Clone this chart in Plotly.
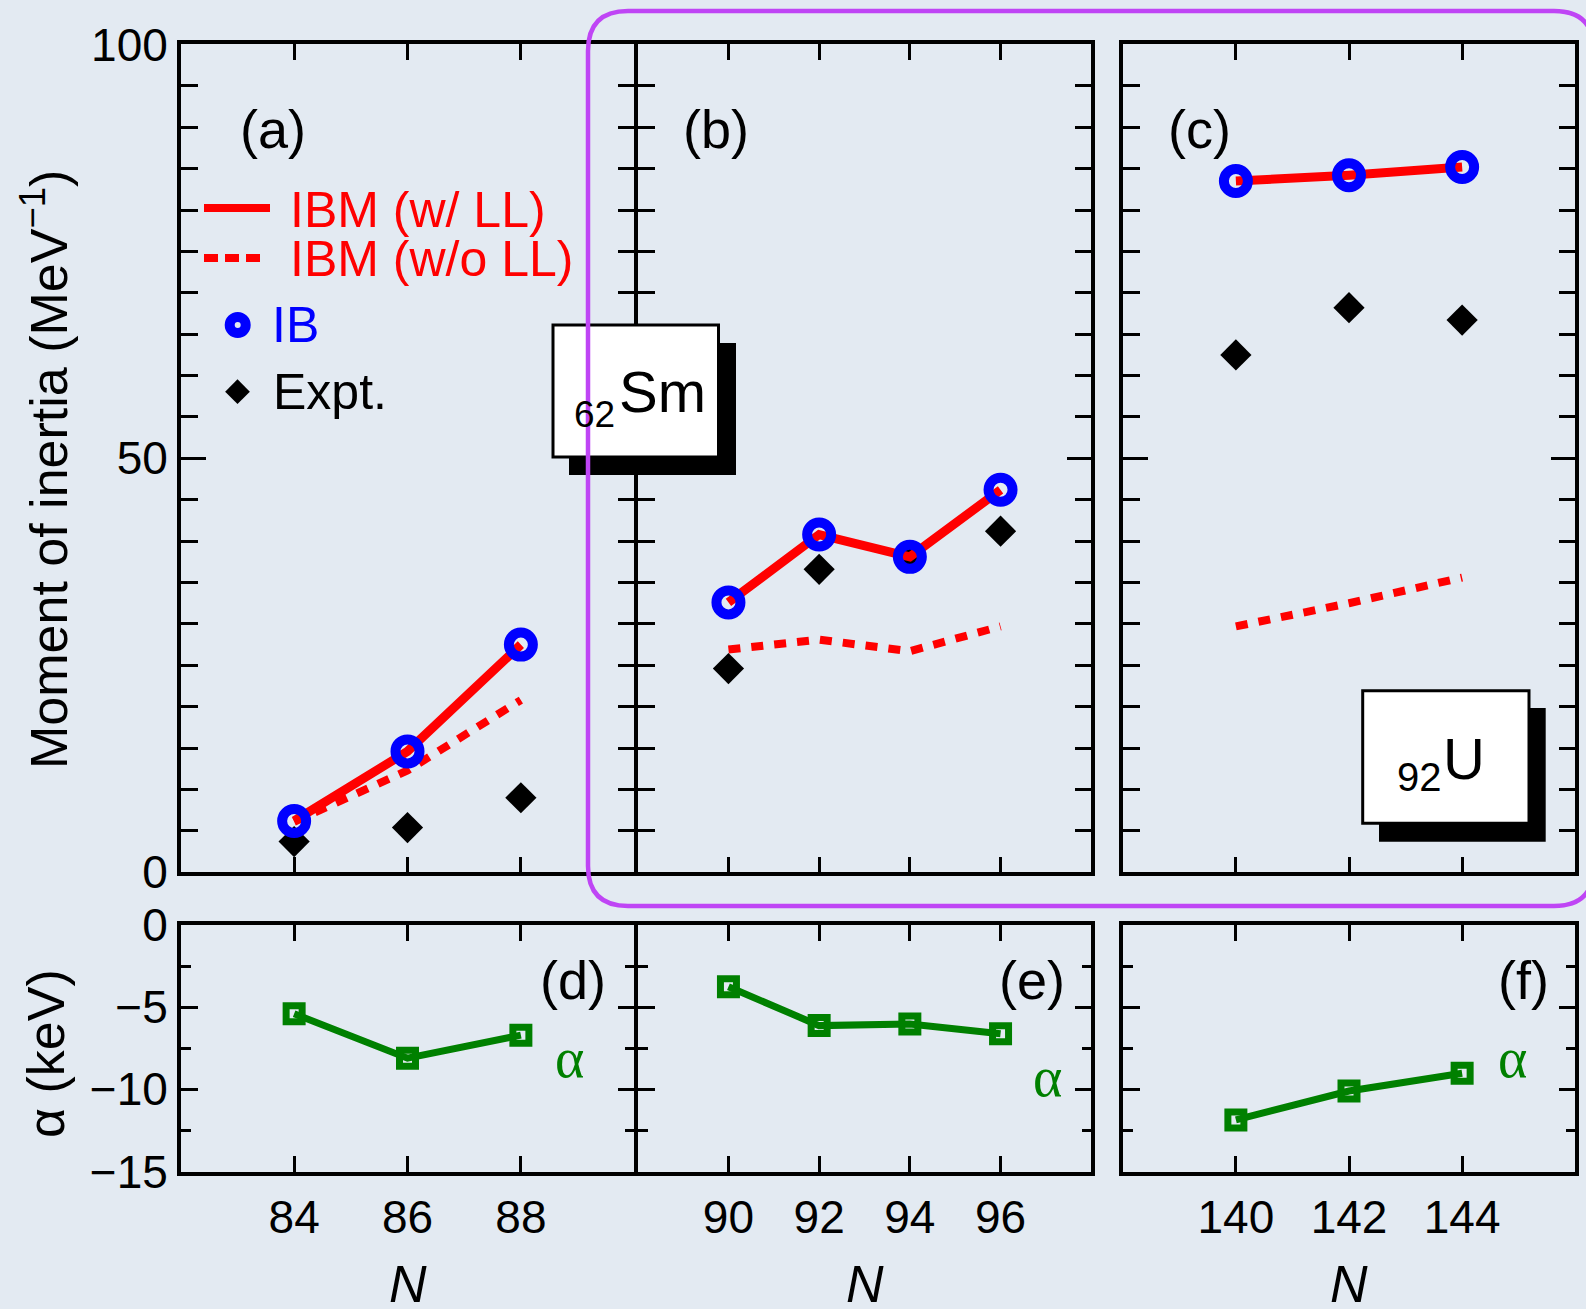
import plotly.graph_objects as go

# ---------------- data ----------------
N_sm_a = [84, 86, 88]
N_sm_b = [90, 92, 94, 96]
N_u = [140, 142, 144]

ibm_ll_a = [6.2, 14.6, 27.5]
ibm_noll_a = [6.1, 12.3, 20.8]
expt_a = [3.7, 5.4, 9.0]

ibm_ll_b = [32.6, 40.8, 38.1, 46.2]
ibm_noll_b = [26.9, 28.1, 26.7, 29.7]
expt_b = [24.6, 36.6, 38.0, 41.2]

ibm_ll_c = [83.5, 84.2, 85.2]
ibm_noll_c = [29.7, 32.5, 35.6]
expt_c = [62.5, 68.2, 66.7]

alpha_a = [-5.4, -8.1, -6.7]
alpha_b = [-3.75, -6.12, -6.02, -6.62]
alpha_c = [-11.86, -10.1, -9.02]

upper_ticks = [0, 50, 100]
lower_ticks = [-15, -10, -5, 0]

# ---------------- layout helpers ----------------
W, H = 1586, 1309
FONT = "Liberation Sans, Arial, Helvetica, sans-serif"
SERIF = "Liberation Serif, Times New Roman, serif"
BG = "#e3eaf2"
RED = "#ff0000"
BLUE = "#0000ff"
GREEN = "#008000"
LW = 3.5
HALF = LW / 2


def dx(a, b):
    return [(a + HALF) / W, (b - HALF) / W]


def dy(top, bottom):
    return [1 - (bottom - HALF) / H, 1 - (top + HALF) / H]


cols = [(179, 636), (636, 1093), (1121, 1577)]
up = (42.7, 874)
lo = (923.3, 1173.3)
xranges = [[82, 90], [88, 98], [138, 146]]
xtv = [N_sm_a, N_sm_b, N_u]

fig = go.Figure()

common = dict(showline=True, linecolor="black", linewidth=LW, mirror="allticks",
              ticks="inside", tickcolor="black", tickwidth=3, showgrid=False,
              zeroline=False, fixedrange=True, automargin=False,
              tickfont=dict(family=FONT, size=46, color="black"))

layout = dict(template="none", width=W, height=H, autosize=False,
              margin=dict(l=0, r=0, t=0, b=0, pad=0),
              paper_bgcolor=BG, plot_bgcolor="rgba(0,0,0,0)", showlegend=False)

for i in range(3):
    xi = i + 1
    sfx = "" if xi == 1 else str(xi)
    layout[f"xaxis{sfx}"] = dict(
        common, domain=dx(*cols[i]), range=xranges[i], tickvals=xtv[i],
        ticklen=16, showticklabels=False, anchor=f"y{sfx}")
    layout[f"yaxis{sfx}"] = dict(
        common, domain=dy(*up), range=[0, 100], tickvals=upper_ticks, ticklen=25,
        showticklabels=(i == 0), ticklabelstandoff=0,
        minor=dict(dtick=5, tick0=0, ticks="inside", ticklen=17, tickwidth=3,
                   tickcolor="black", showgrid=False),
        anchor=f"x{sfx}")
    xl = i + 4
    layout[f"xaxis{xl}"] = dict(
        common, domain=dx(*cols[i]), range=xranges[i], tickvals=xtv[i],
        ticklen=16, showticklabels=True, ticklabelstandoff=2, anchor=f"y{xl}")
    layout[f"yaxis{xl}"] = dict(
        common, domain=dy(*lo), range=[-15, 0], tickvals=lower_ticks, ticklen=17,
        showticklabels=(i == 0), ticklabelstandoff=0,
        minor=dict(dtick=2.5, tick0=0, ticks="inside", ticklen=10, tickwidth=3,
                   tickcolor="black", showgrid=False),
        anchor=f"x{xl}")

# overlay pixel axis for decorations
layout["xaxis7"] = dict(domain=[0, 1], range=[0, W], visible=False, fixedrange=True,
                        automargin=False, anchor="y7")
layout["yaxis7"] = dict(domain=[0, 1], range=[H, 0], visible=False, fixedrange=True,
                        automargin=False, anchor="x7")

fig.update_layout(**layout)

upper_sets = [
    (N_sm_a, ibm_ll_a, ibm_noll_a, expt_a),
    (N_sm_b, ibm_ll_b, ibm_noll_b, expt_b),
    (N_u, ibm_ll_c, ibm_noll_c, expt_c),
]
alpha_sets = [(N_sm_a, alpha_a), (N_sm_b, alpha_b), (N_u, alpha_c)]

for i, (n, ll, noll, ex) in enumerate(upper_sets):
    xa = "x" if i == 0 else f"x{i+1}"
    ya = "y" if i == 0 else f"y{i+1}"
    fig.add_trace(go.Scatter(x=n, y=noll, mode="lines", xaxis=xa, yaxis=ya,
                             line=dict(color=RED, width=8, dash="12px,11px")))
    fig.add_trace(go.Scatter(x=n, y=ex, mode="markers", xaxis=xa, yaxis=ya,
                             marker=dict(symbol="diamond", size=24, color="black",
                                         line=dict(width=0))))
    fig.add_trace(go.Scatter(x=n, y=ll, mode="lines", xaxis=xa, yaxis=ya,
                             line=dict(color=RED, width=9)))
    fig.add_trace(go.Scatter(x=n, y=ll, mode="markers", xaxis=xa, yaxis=ya,
                             marker=dict(symbol="circle-open", size=24, color=BLUE,
                                         line=dict(color=BLUE, width=10))))

for i, (n, al) in enumerate(alpha_sets):
    fig.add_trace(go.Scatter(x=n, y=al, mode="lines+markers", xaxis=f"x{i+4}", yaxis=f"y{i+4}",
                             line=dict(color=GREEN, width=7),
                             marker=dict(symbol="square-open", size=16, color=GREEN,
                                         line=dict(color=GREEN, width=7))))

# ---------------- legend (pixel overlay) ----------------
fig.add_trace(go.Scatter(x=[204, 270], y=[208, 208], mode="lines", xaxis="x7", yaxis="y7",
                         line=dict(color=RED, width=8)))
fig.add_trace(go.Scatter(x=[204, 267], y=[258, 258], mode="lines", xaxis="x7", yaxis="y7",
                         line=dict(color=RED, width=8, dash="14px,7px")))
fig.add_trace(go.Scatter(x=[237.7], y=[325], mode="markers", xaxis="x7", yaxis="y7",
                         marker=dict(symbol="circle-open", size=16, color=BLUE,
                                     line=dict(color=BLUE, width=10))))
fig.add_trace(go.Scatter(x=[237.5], y=[391.7], mode="markers", xaxis="x7", yaxis="y7",
                         marker=dict(symbol="diamond", size=19, color="black", line=dict(width=0))))

# ---------------- shapes ----------------
shapes = []
shapes.append(dict(type="rect", xref="x7", yref="y7", x0=569, x1=736, y0=343, y1=475,
                   fillcolor="black", line=dict(width=0), layer="above"))
shapes.append(dict(type="rect", xref="x7", yref="y7", x0=553, x1=718.5, y0=325, y1=457,
                   fillcolor="white", line=dict(color="black", width=3), layer="above"))
shapes.append(dict(type="rect", xref="x7", yref="y7", x0=1379, x1=1545.7, y0=708, y1=841.7,
                   fillcolor="black", line=dict(width=0), layer="above"))
shapes.append(dict(type="rect", xref="x7", yref="y7", x0=1362.7, x1=1529, y0=690.7, y1=823.3,
                   fillcolor="white", line=dict(color="black", width=3), layer="above"))
L, T, R, B, r = 588, 11, 1594, 906, 40
path = (f"M {L+r},{T} L {R-r},{T} Q {R},{T} {R},{T+r} L {R},{B-r} Q {R},{B} {R-r},{B} "
        f"L {L+r},{B} Q {L},{B} {L},{B-r} L {L},{T+r} Q {L},{T} {L+r},{T} Z")
shapes.append(dict(type="path", xref="x7", yref="y7", path=path,
                   line=dict(color="#bf45f5", width=4.5), layer="above"))
fig.update_layout(shapes=shapes)

# ---------------- annotations ----------------
ann = []


def txt(x, y, s, size, color="black", family=FONT, xanchor="center", angle=0):
    ann.append(dict(x=x, y=y, xref="x7", yref="y7", text=s, showarrow=False,
                    xanchor=xanchor, yanchor="middle", textangle=angle,
                    font=dict(family=family, size=size, color=color)))


for lab, x, y in [("(a)", 273, 129), ("(b)", 716, 129), ("(c)", 1199, 129),
                  ("(d)", 573, 980), ("(e)", 1032, 980), ("(f)", 1523, 980)]:
    txt(x, y, lab, 54)

txt(288, 210, "IBM (w/ LL)", 50, RED, xanchor="left")
txt(288, 259, "IBM (w/o LL)", 50, RED, xanchor="left")
txt(270, 325, "IB", 50, BLUE, xanchor="left")
txt(271, 392, "Expt.", 50, "black", xanchor="left")

txt(662, 391, "Sm", 58)
txt(594.5, 414, "62", 37)
txt(1463.5, 758, "U", 58)
txt(1419, 777, "92", 40)

txt(569, 1058, "α", 56, GREEN, family=SERIF)
txt(1047, 1077, "α", 56, GREEN, family=SERIF)
txt(1512, 1058, "α", 56, GREEN, family=SERIF)

txt(45, 470, "Moment of inertia (MeV<sup>−1</sup>)", 52, angle=-90)
txt(46, 1054, "α (keV)", 52, angle=-90)
for xc in [407.5, 864.5, 1349]:
    txt(xc, 1284, "<i>N</i>", 52)

fig.update_layout(annotations=ann)

fig.write_html("out.html", config={"displayModeBar": False},
               post_script="document.body.style.margin='0px';")
